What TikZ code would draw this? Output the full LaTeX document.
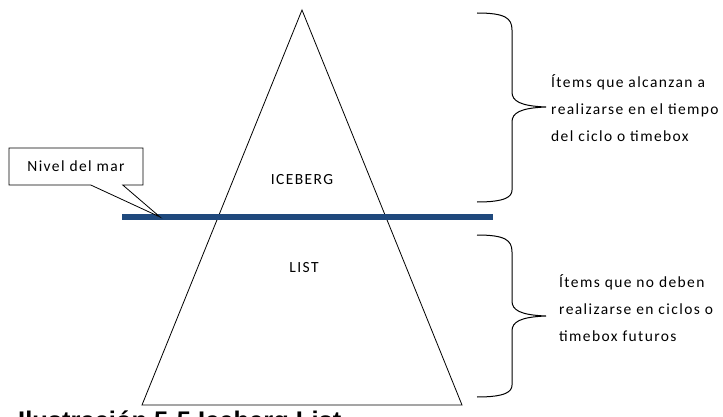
\documentclass[tikz,border=0pt]{standalone}
\usepackage{fontspec}
\setmainfont[LetterSpace=9]{Carlito}
\newfontfamily\captionfont{Liberation Sans}
\usetikzlibrary{shapes.callouts}
\definecolor{seablue}{RGB}{31,73,125}

\begin{document}
\begin{tikzpicture}[x=1pt, y=-1pt,
  lbl/.style={font=\fontsize{15.5}{27}\selectfont, align=left, inner sep=0pt},
  edge/.style={line width=0.8pt},
  brace/.style={line width=1pt},
  sea/.style={line width=6pt, seablue},
  captiontext/.style={font=\captionfont\bfseries\fontsize{25.5}{30}\selectfont, inner sep=0pt}
]
\useasboundingbox (0,0) rectangle (723,417);
\clip (0,0) rectangle (723,417);

% Iceberg triangle
\coordinate (apex) at (302,10);
\coordinate (base west) at (142,405);
\coordinate (base east) at (462,405);
\draw[edge] (apex) -- (base east) -- (base west) -- cycle;

\node[lbl] (iceberg) at (302,180) {ICEBERG};
\node[lbl] (list) at (304,268) {LIST};

% Sea level
\coordinate (sea west) at (122,217);
\coordinate (sea east) at (493,217);
\coordinate (sea tip) at (160,217);
\draw[sea] (sea west) -- (sea east);

% Callout
\node[lbl, rectangle callout, draw, fill=white, line width=0.8pt,
  minimum width=134pt, minimum height=37pt,
  callout absolute pointer={(sea tip)}, callout pointer width=32pt]
  (mar) at (76,166.5) {Nivel del mar};

% Braces
\draw[brace] (477,13) .. controls (505,13) and (512,18) .. (512,30) -- (512,92)
  .. controls (512,101) and (520,106) .. (546,107) coordinate (upper tip)
  .. controls (520,108) and (512,113) .. (512,122) -- (512,190)
  .. controls (512,197) and (505,202) .. (477,202);
\draw[brace] (477,235) .. controls (505,235) and (512,240) .. (512,252) -- (512,301)
  .. controls (512,310) and (520,315) .. (546,316) coordinate (lower tip)
  .. controls (520,317) and (512,322) .. (512,331) -- (512,385)
  .. controls (512,392) and (505,397) .. (477,397);

\node[lbl, anchor=west] (upper text) at (551,108)
  {Ítems que alcanzan a\\realizarse en el tiempo\\del ciclo o timebox};
\node[lbl, anchor=west] (lower text) at (559,308)
  {Ítems que no deben\\realizarse en ciclos o\\timebox futuros};

% Caption (cut by the page edge)
\node[captiontext, anchor=base west] (caption) at (18,429) {Ilustración 5-5 Iceberg List};

\end{tikzpicture}
\end{document}
